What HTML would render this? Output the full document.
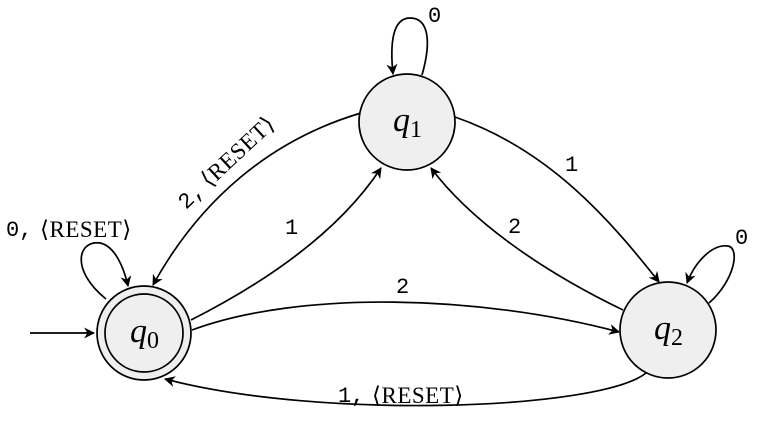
<!DOCTYPE html>
<html><head><style>
html,body{margin:0;padding:0;background:#fff;width:762px;height:423px;overflow:hidden}
svg{display:block}
.m{font-family:"Liberation Mono",monospace;font-size:22px}
.s{font-family:"Liberation Serif",serif;font-size:23px;letter-spacing:0.5px}
.q{font-family:"Liberation Serif",serif;font-style:italic;font-size:34px}
.sub{font-family:"Liberation Serif",serif;font-size:24px}
</style></head><body>
<svg width="762" height="423" viewBox="0 0 762 423" xmlns="http://www.w3.org/2000/svg">
<defs>
<marker id="a" viewBox="0 0 10 10" refX="9" refY="5" markerWidth="11" markerHeight="11" orient="auto-start-reverse" markerUnits="userSpaceOnUse">
<path d="M0,0 L10,5 L0,10 L3,5 Z" fill="#000"/>
</marker>
</defs>
<g fill="none" stroke="#000" stroke-width="1.7">
<path d="M30,333 L94,333" marker-end="url(#a)"/>
<path d="M106,299 C70,270 78,240 100,243 C115,246 124,268 128,286" marker-end="url(#a)"/>
<path d="M422,75 C432,40 428,18 410,18 C392,18 390,45 393,74" marker-end="url(#a)"/>
<path d="M709,303 C735,280 740,248 728,246 C712,244 695,262 687,283" marker-end="url(#a)"/>
<path d="M361,113 C270,140 200,200 153,285" marker-end="url(#a)"/>
<path d="M191,320 C270,280 340,230 381,168" marker-end="url(#a)"/>
<path d="M455,117 C550,150 610,220 659,282" marker-end="url(#a)"/>
<path d="M623,310 C540,270 470,220 431,168" marker-end="url(#a)"/>
<path d="M192,330 C300,290 480,295 619,332" marker-end="url(#a)"/>
<path d="M646,373 C600,410 320,420 165,379" marker-end="url(#a)"/>
</g>
<circle cx="144" cy="333" r="47" fill="#efefef" stroke="#000" stroke-width="1.7"/>
<circle cx="144" cy="333" r="39" fill="none" stroke="#000" stroke-width="1.7"/>
<circle cx="407" cy="122" r="48" fill="#efefef" stroke="#000" stroke-width="1.7"/>
<circle cx="668" cy="330" r="48" fill="#efefef" stroke="#000" stroke-width="1.7"/>
<text x="130" y="342" class="q">q<tspan class="sub" font-style="normal" dy="6">0</tspan></text>
<text x="393" y="131" class="q">q<tspan class="sub" font-style="normal" dy="6">1</tspan></text>
<text x="654" y="339" class="q">q<tspan class="sub" font-style="normal" dy="6">2</tspan></text>
<text x="6" y="236" class="m">0,</text><text x="40" y="237" class="s">⟨RESET⟩</text>
<text x="428" y="22" class="m">0</text>
<text x="735" y="244" class="m">0</text>
<text x="285" y="234" class="m">1</text>
<text x="565" y="171" class="m">1</text>
<text x="508" y="233" class="m">2</text>
<text x="396" y="293" class="m">2</text>
<text x="338" y="402" class="m">1,</text><text x="372" y="403" class="s">⟨RESET⟩</text>
<g transform="translate(186,210) rotate(-43)">
<text x="0" y="0" class="m">2,</text><text x="32" y="0" class="s">⟨RESET⟩</text>
</g>
</svg>
</body></html>
